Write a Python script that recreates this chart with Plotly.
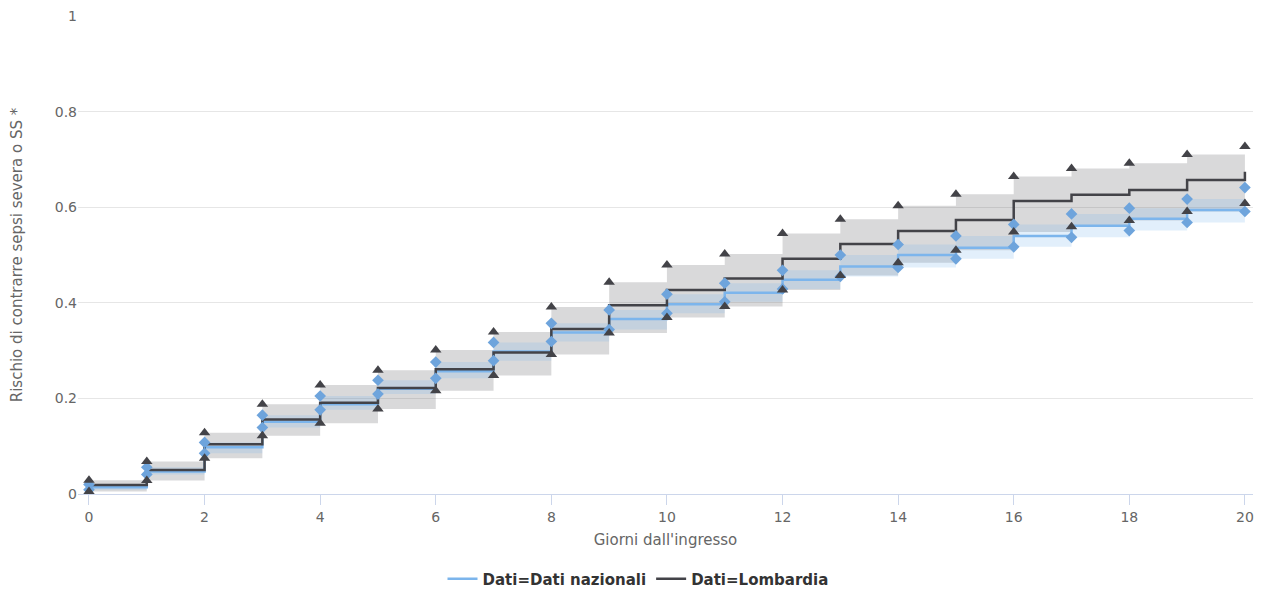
import plotly.graph_objects as go

giorni = list(range(0, 21))

# Dati nazionali
naz_rischio = [0.014, 0.047, 0.098, 0.151, 0.188, 0.220, 0.257, 0.298, 0.338, 0.366, 0.397,
               0.421, 0.448, 0.476, 0.500, 0.515, 0.540, 0.561, 0.576, 0.594, 0.594]
naz_inf = [0.009, 0.041, 0.085, 0.139, 0.176, 0.209, 0.242, 0.279, 0.319, 0.344, 0.378,
           0.402, 0.429, 0.455, 0.474, 0.492, 0.517, 0.537, 0.551, 0.568, 0.591]
naz_sup = [0.020, 0.056, 0.108, 0.165, 0.205, 0.238, 0.276, 0.317, 0.357, 0.385, 0.418,
           0.441, 0.468, 0.500, 0.522, 0.540, 0.564, 0.586, 0.598, 0.617, 0.641]

# Lombardia
lom_rischio = [0.019, 0.050, 0.104, 0.156, 0.191, 0.222, 0.261, 0.296, 0.345, 0.395, 0.427,
               0.451, 0.492, 0.523, 0.550, 0.573, 0.613, 0.626, 0.636, 0.657, 0.674]
lom_inf = [0.005, 0.028, 0.075, 0.122, 0.148, 0.178, 0.216, 0.248, 0.292, 0.337, 0.369,
           0.392, 0.427, 0.457, 0.484, 0.510, 0.548, 0.559, 0.572, 0.591, 0.608]
lom_sup = [0.029, 0.068, 0.128, 0.188, 0.228, 0.259, 0.301, 0.339, 0.391, 0.443, 0.479,
           0.502, 0.545, 0.575, 0.603, 0.627, 0.664, 0.681, 0.692, 0.710, 0.727]

BLUE = "#7cb5ec"
BLUE_MK = "#6ea4dc"
DARK = "#434348"
FONT = "DejaVu Sans"

fig = go.Figure()

# Lombardia band
fig.add_trace(go.Scatter(x=giorni, y=lom_inf, mode="lines", line=dict(width=0, shape="hv"),
                         showlegend=False, hoverinfo="skip"))
fig.add_trace(go.Scatter(x=giorni, y=lom_sup, mode="lines", line=dict(width=0, shape="hv"),
                         fill="tonexty", fillcolor="rgba(67,67,72,0.2)",
                         showlegend=False, hoverinfo="skip"))
# Nazionali band
fig.add_trace(go.Scatter(x=giorni, y=naz_inf, mode="lines", line=dict(width=0, shape="hv"),
                         showlegend=False, hoverinfo="skip"))
fig.add_trace(go.Scatter(x=giorni, y=naz_sup, mode="lines", line=dict(width=0, shape="hv"),
                         fill="tonexty", fillcolor="rgba(124,181,236,0.22)",
                         showlegend=False, hoverinfo="skip"))

# Lines
fig.add_trace(go.Scatter(x=giorni, y=naz_rischio, mode="lines", name="Dati=Dati nazionali",
                         line=dict(color=BLUE, width=2.5, shape="hv")))
fig.add_trace(go.Scatter(x=giorni, y=lom_rischio, mode="lines", name="Dati=Lombardia",
                         line=dict(color=DARK, width=2.5, shape="hv")))

# CI markers
fig.add_trace(go.Scatter(x=giorni + giorni, y=naz_inf + naz_sup, mode="markers",
                         marker=dict(symbol="diamond", size=9, color=BLUE_MK),
                         showlegend=False))
fig.add_trace(go.Scatter(x=giorni + giorni, y=lom_inf + lom_sup, mode="markers",
                         marker=dict(symbol="triangle-up", size=10, color=DARK),
                         showlegend=False))

fig.update_layout(
    width=1276, height=589,
    margin=dict(l=78, r=23, t=16, b=95, autoexpand=False),
    paper_bgcolor="white", plot_bgcolor="white",
    font=dict(family=FONT, size=14, color="#666666"),
    legend=dict(orientation="h", x=0.5, xanchor="center", xref="container",
                y=1 - 579 / 589, yanchor="middle", yref="container",
                traceorder="normal", itemwidth=30,
                font=dict(family=FONT, size=15, color="#333333", weight="bold")),
    xaxis=dict(range=[-0.19, 20.14], tickvals=list(range(0, 21, 2)), showgrid=False,
               showline=True, linecolor="#ccd6eb", linewidth=1, ticks="outside",
               ticklen=10, tickcolor="#ccd6eb", zeroline=False,
               tickfont=dict(size=14, color="#666666"),
               title=dict(text="Giorni dall'ingresso", font=dict(size=15, color="#666666"), standoff=10)),
    yaxis=dict(range=[0, 1], tickvals=[0, 0.2, 0.4, 0.6, 0.8, 1],
               ticktext=["0", "0.2", "0.4", "0.6", "0.8", "1"],
               showgrid=True, gridcolor="#e6e6e6", zeroline=False, showline=False,
               ticks="", tickfont=dict(size=14, color="#666666"),
               title=dict(text="Rischio di contrarre sepsi severa o SS *",
                          font=dict(size=15, color="#666666"), standoff=28)),
)

fig.write_html("out.html", config={"displayModeBar": False},
               post_script="document.body.style.margin='0';")
